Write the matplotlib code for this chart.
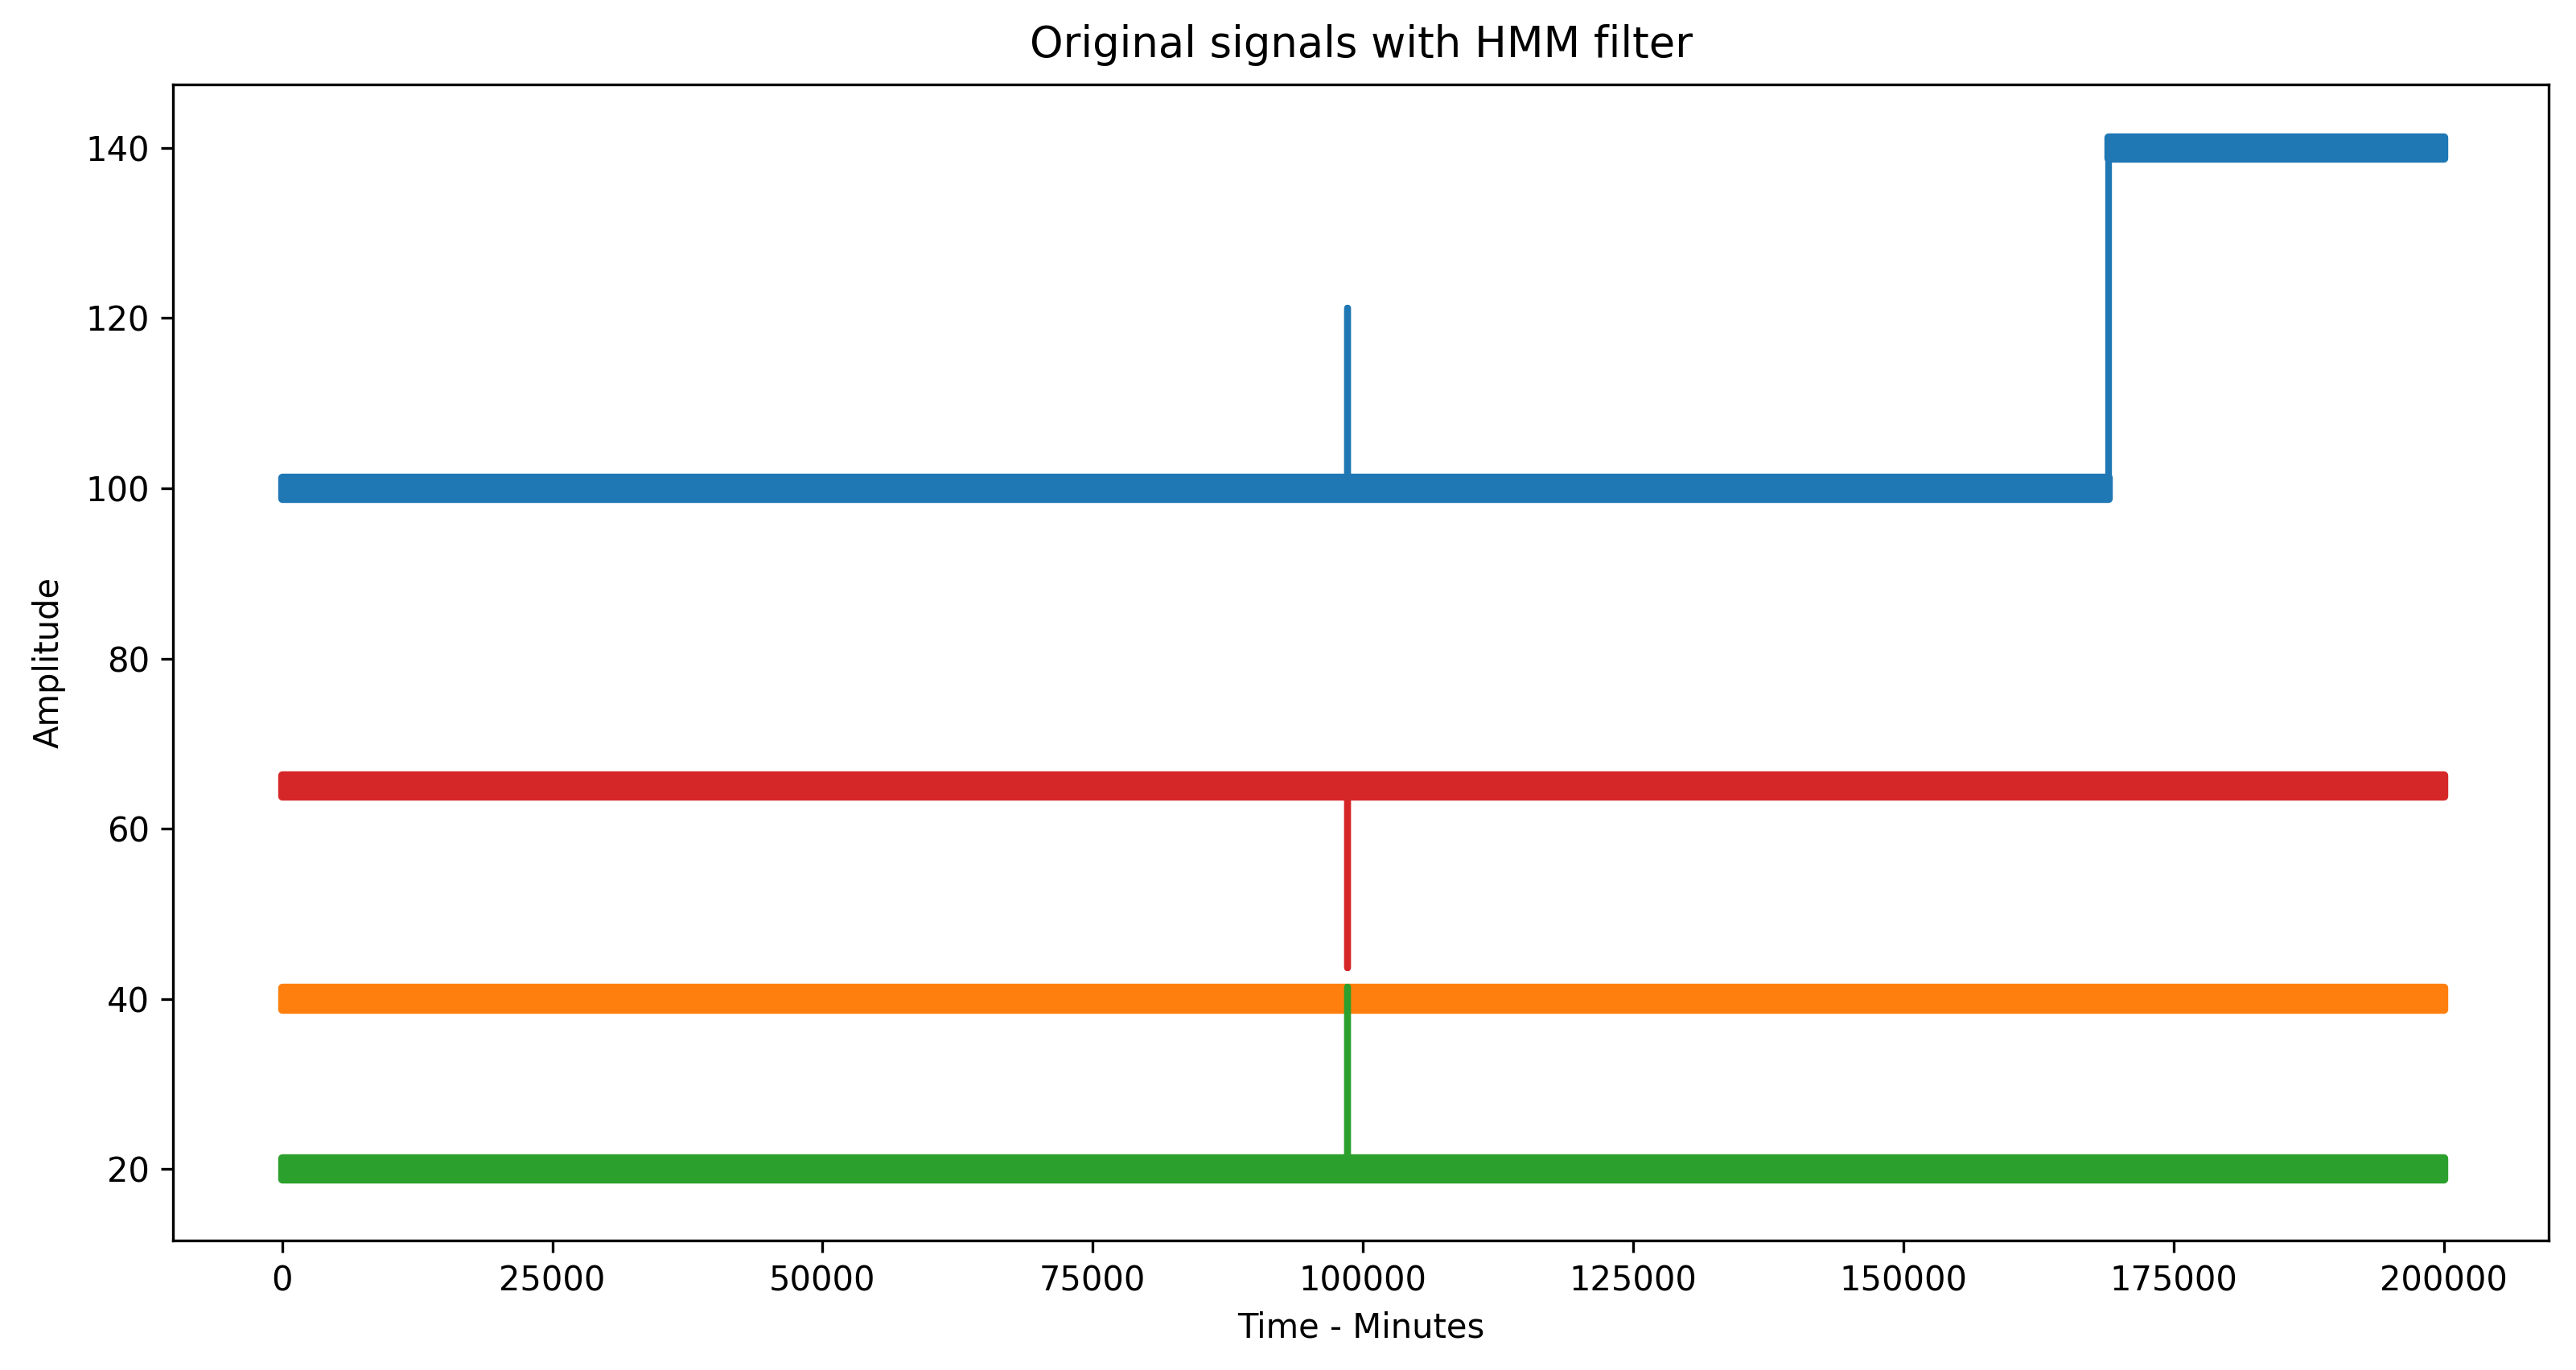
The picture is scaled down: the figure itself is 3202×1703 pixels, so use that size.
import matplotlib.pyplot as plt

# Trazas (nivel + picos), x en minutos
blue_x = [0, 98600, 98600, 98600, 169000, 169000, 200000]
blue_y = [100, 100, 121.2, 100, 100, 140, 140]

orange_x = [0, 200000]
orange_y = [40, 40]

green_x = [0, 98600, 98600, 98600, 200000]
green_y = [20, 20, 41.4, 20, 20]

red_x = [0, 98600, 98600, 98600, 200000]
red_y = [65, 65, 43.7, 65, 65]

# tramos horizontales (inicio, fin, nivel) donde se ve la banda de ruido
blue_levels = [(0, 169000, 100), (169000, 200000, 140)]
orange_levels = [(0, 200000, 40)]
green_levels = [(0, 200000, 20)]
red_levels = [(0, 200000, 65)]

noise_half = 1.25  # media anchura de la banda de ruido

series = [
    (blue_x, blue_y, blue_levels, 'tab:blue'),
    (orange_x, orange_y, orange_levels, 'tab:orange'),
    (green_x, green_y, green_levels, 'tab:green'),
    (red_x, red_y, red_levels, 'tab:red'),
]

fig = plt.figure(figsize=(3203 / 300, 1703 / 300), dpi=300)
ax = fig.add_axes([0.0671, 0.0945, 0.9220, 0.8441])

for xs, ys, levels, color in series:
    for x0, x1, lvl in levels:
        ax.fill_between([x0, x1], lvl - noise_half, lvl + noise_half,
                        color=color, edgecolor=color, linewidth=2.5,
                        joinstyle='round')
    ax.plot(xs, ys, color=color, linewidth=2)

ax.set_xlim(-10100, 209700)
ax.set_ylim(11.6, 147.5)
ax.set_yticks([20, 40, 60, 80, 100, 120, 140])
ax.set_xticks([0, 25000, 50000, 75000, 100000, 125000, 150000, 175000, 200000])
ax.set_title("Original signals with HMM filter", fontsize=12.7, pad=8)
ax.set_xlabel("Time - Minutes")
ax.set_ylabel("Amplitude", labelpad=6)

fig.savefig('out.png', dpi=300)
